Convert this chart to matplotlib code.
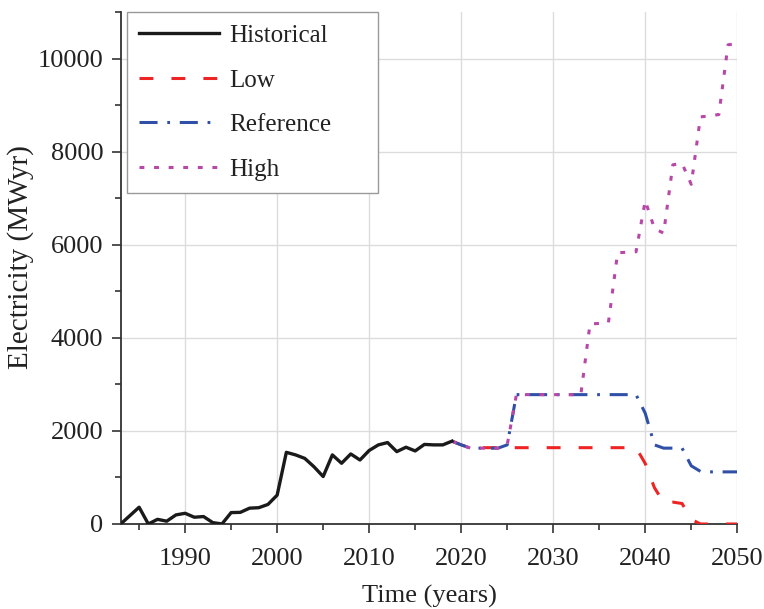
import matplotlib
matplotlib.use("Agg")
import matplotlib.pyplot as plt
from matplotlib.ticker import MultipleLocator

# historical electricity (MWyr)
hist_years = list(range(1983, 2020))
hist_vals = [0, 180, 360, 0, 100, 60, 195, 230, 145, 160, 30, 0,
             245, 250, 340, 350, 420, 620, 1540, 1485, 1410, 1230,
             1020, 1485, 1305, 1505, 1375, 1580, 1700, 1750, 1555,
             1650, 1570, 1710, 1700, 1700, 1780]

# scenarios 2019-2050
scen_years = list(range(2019, 2051))
low_vals = [1780, 1700, 1640, 1640, 1640, 1640, 1640, 1640, 1640, 1640,
            1640, 1640, 1640, 1640, 1640, 1640, 1640, 1640, 1640, 1640,
            1640, 1300, 780, 460, 470, 440, 100, 0, 0, 0, 0, 0]
ref_vals = [1780, 1700, 1630, 1630, 1630, 1630, 1700, 2780, 2780, 2780,
            2780, 2780, 2780, 2780, 2780, 2780, 2780, 2780, 2780, 2780,
            2780, 2380, 1700, 1630, 1630, 1630, 1250, 1130, 1120, 1120,
            1120, 1120]
high_vals = [1780, 1700, 1630, 1630, 1630, 1630, 1700, 2780, 2780, 2780,
             2780, 2780, 2780, 2780, 2780, 4300, 4310, 4330, 5830, 5840,
             5850, 6950, 6350, 6250, 7720, 7750, 7300, 8750, 8770, 8800,
             10300, 10320]

plt.rcParams['font.family'] = ['Liberation Serif', 'DejaVu Serif']
plt.rcParams['lines.scale_dashes'] = False

fig = plt.figure(figsize=(7.64, 6.09), dpi=100)
ax = fig.add_axes([0.158, 0.1396, 0.807, 0.8404])

ax.plot(hist_years, hist_vals, color='#1a1a1a', lw=2.4, label='Historical',
        zorder=5)
ax.plot(scen_years, low_vals, color='#ee2424', lw=2.2, dashes=[10, 13],
        label='Low', zorder=3)
ax.plot(scen_years, ref_vals, color='#3050a8', lw=2.2,
        dashes=[13, 7, 2, 7], label='Reference', zorder=4)
ax.plot(scen_years, high_vals, color='#b848a8', lw=2.2, dashes=[3.5, 7],
        label='High', zorder=4)

ax.set_xlim(1983, 2050)
ax.set_ylim(0, 11000)
ax.xaxis.set_minor_locator(MultipleLocator(5))
ax.yaxis.set_major_locator(MultipleLocator(2000))
ax.yaxis.set_minor_locator(MultipleLocator(1000))
ax.set_xticks([1990, 2000, 2010, 2020, 2030, 2040, 2050])

ax.grid(True, which='major', color='#dcdcdc', lw=1.0)
ax.set_axisbelow(True)
for s in ['top', 'right']:
    ax.spines[s].set_visible(False)
for s in ['left', 'bottom']:
    ax.spines[s].set_color('#333333')
    ax.spines[s].set_linewidth(1.3)

ax.tick_params(which='major', direction='out', length=6.5, width=1.2,
               color='#333333', labelsize=19, labelcolor='#222222')
ax.tick_params(axis='x', which='major', pad=11)
ax.tick_params(axis='y', which='major', pad=6)
ax.tick_params(which='minor', direction='out', length=4, width=1.2,
               color='#333333')

ax.set_xlabel('Time (years)', fontsize=19, color='#222222')
ax.set_ylabel('Electricity (MWyr)', fontsize=21, color='#222222')
ax.xaxis.set_label_coords(0.5, -0.119)
ax.yaxis.set_label_coords(-0.14, 0.522)

leg = ax.legend(loc='upper left', bbox_to_anchor=(0.0097, 0.6536, 0.4075, 0.3464),
                mode='expand', borderaxespad=0, fontsize=18, handlelength=3.2,
                handletextpad=0.4, labelspacing=0.88, fancybox=False,
                framealpha=1, edgecolor='#999999', borderpad=0.5)
leg.get_frame().set_linewidth(1.0)
for t in leg.get_texts():
    t.set_color('#222222')

fig.savefig('out.png', dpi=100)
